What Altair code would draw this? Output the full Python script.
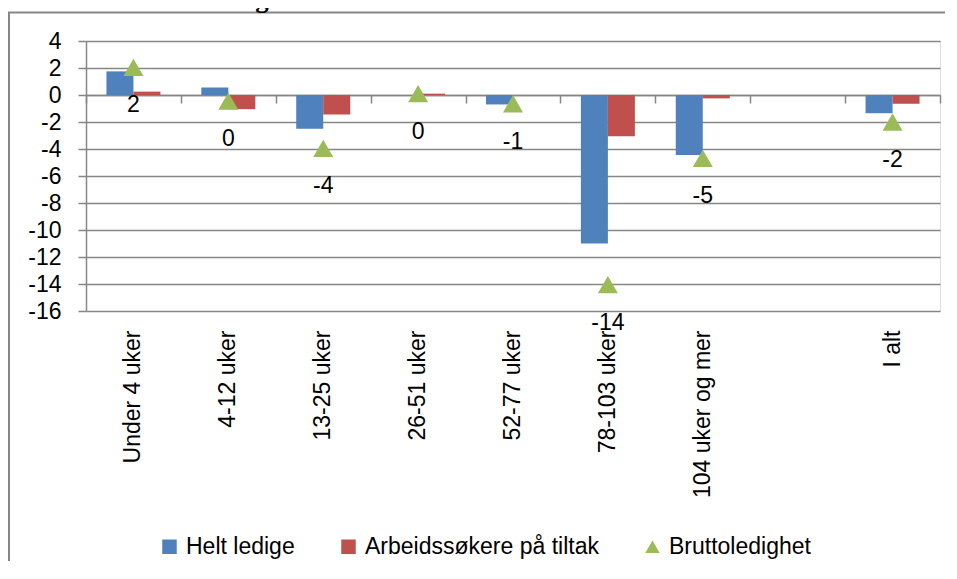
import altair as alt
import pandas as pd

# ---- data ----
categories = ["Under 4 uker", "4-12 uker", "13-25 uker", "26-51 uker", "52-77 uker",
              "78-103 uker", "104 uker og mer", " ", "I alt"]
data_categories = ["Under 4 uker", "4-12 uker", "13-25 uker", "26-51 uker", "52-77 uker",
                   "78-103 uker", "104 uker og mer", "I alt"]
helt_ledige = [1.75, 0.55, -2.5, 0.0, -0.7, -11.0, -4.45, -1.35]
tiltak = [0.25, -1.05, -1.45, 0.1, 0.0, -3.05, -0.25, -0.65]
brutto = [2.05, -0.45, -3.95, 0.1, -0.65, -14.05, -4.7, -2.0]
series_names = ["Helt ledige", "Arbeidssøkere på tiltak", "Bruttoledighet"]
series_colors = ["#4F81BD", "#C0504D", "#9BBB59"]
series_shapes = ["square", "square", "triangle-up"]
y_ticks = list(range(-16, 5, 2))
title_text = ["etter arbeidssøkervarighet. November 2011 – november 2012"]

bars_df = pd.DataFrame({
    "category": data_categories * 2,
    "series": [series_names[0]] * len(data_categories) + [series_names[1]] * len(data_categories),
    "value": helt_ledige + tiltak,
})
gross_df = pd.DataFrame({
    "category": data_categories,
    "series": [series_names[2]] * len(data_categories),
    "value": brutto,
})
title_df = pd.DataFrame({"t": title_text})

GRAY = "#868686"
FONT = "Liberation Sans"
FS = 23

x_scale = alt.Scale(domain=categories, paddingInner=0, paddingOuter=0)
y_scale = alt.Scale(domain=[-16, 4], nice=False, zero=False)
color_scale = alt.Scale(domain=series_names, range=series_colors)
shape_scale = alt.Scale(domain=series_names, range=series_shapes)

legend_props = dict(
    orient="none", legendX=72, legendY=494, direction="horizontal", title=None,
    labelFontSize=FS, labelFont=FONT, labelColor="black", symbolSize=210,
    symbolStrokeWidth=0, labelOffset=5, columnPadding=42, padding=0, labelLimit=400,
)


def y_axis():
    return alt.Axis(values=y_ticks, title=None, grid=True, gridColor=GRAY,
                    gridWidth=1.5, domainColor=GRAY, domainWidth=1.5,
                    tickColor=GRAY, tickWidth=1.5, tickSize=8, labelPadding=17,
                    labelFontSize=FS, labelFont=FONT, labelColor="black")


bars = alt.Chart(bars_df).mark_bar().encode(
    x=alt.X("category:N", scale=x_scale, sort=categories,
            axis=alt.Axis(orient="bottom", title=None, domain=False, ticks=False, tickSize=0,
                          grid=False, labelAngle=270, labelAlign="right",
                          labelBaseline="middle", labelPadding=19, labelFontSize=FS,
                          labelFont=FONT, labelColor="black", labelOverlap=False,
                          labelLimit=400)),
    xOffset=alt.XOffset("series:N", sort=series_names[:2],
                        scale=alt.Scale(domain=series_names[:2], paddingInner=0,
                                        paddingOuter=0.757)),
    y=alt.Y("value:Q", scale=y_scale, axis=y_axis()),
    color=alt.Color("series:N", scale=color_scale, legend=alt.Legend(**legend_props)),
)

points = alt.Chart(gross_df).mark_point(filled=True, opacity=1, size=400).encode(
    x=alt.X("category:N", scale=x_scale, sort=categories,
            axis=alt.Axis(orient="bottom", offset=-216, title=None, labels=False,
                          domain=True, domainColor=GRAY, domainWidth=1.5, ticks=True,
                          tickBand="extent", tickSize=8, tickColor=GRAY, tickWidth=1.5,
                          grid=False)),
    y=alt.Y("value:Q", scale=y_scale, axis=y_axis()),
    color=alt.Color("series:N", scale=color_scale, legend=alt.Legend(**legend_props)),
    shape=alt.Shape("series:N", scale=shape_scale, legend=alt.Legend(**legend_props)),
)

labels = alt.Chart(gross_df).mark_text(dy=38, fontSize=FS, font=FONT, color="black",
                                       baseline="middle", align="center").encode(
    x=alt.X("category:N", scale=x_scale, sort=categories, axis=None),
    y=alt.Y("value:Q", scale=y_scale, axis=y_axis()),
    text=alt.Text("value:Q", format=".0f"),
)

border = alt.Chart(title_df).mark_rect(fillOpacity=0, stroke=GRAY, strokeWidth=2).encode(
    x=alt.value(-77), x2=alt.value(900), y=alt.value(-28.5), y2=alt.value(600),
)

title = alt.Chart(title_df).mark_text(align="left", baseline="alphabetic",
                                      font="Liberation Serif", fontWeight="bold",
                                      fontSize=27, color="black").encode(
    text="t:N", x=alt.value(-86), y=alt.value(-34),
)

chart = alt.layer(border, title, bars, points, labels).resolve_axis(
    x="independent", y="shared"
).properties(
    width=854, height=270,
    autosize=alt.AutoSizeParams(type="none"),
    padding={"left": 78, "top": 33, "right": 5, "bottom": 250},
).configure_view(strokeOpacity=0, strokeWidth=0).configure(
    font=FONT,
    locale={"number": {"decimal": ".", "thousands": ",", "grouping": [3],
                       "currency": ["", ""], "minus": "-"}},
)

chart.save("out.html", embed_options={"renderer": "svg", "actions": False})
